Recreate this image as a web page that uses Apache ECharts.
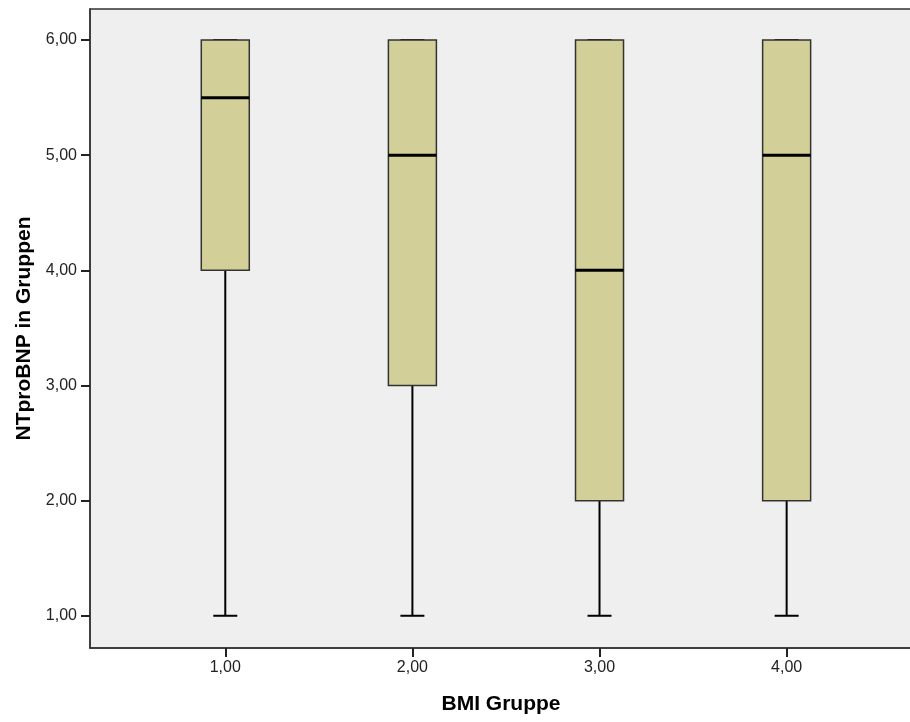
<!DOCTYPE html>
<html>
<head>
<meta charset="utf-8">
<script src="https://cdn.jsdelivr.net/npm/echarts@6/dist/echarts.min.js"></script>
<style>
  html, body { margin: 0; padding: 0; background: #fff; }
  #chart { width: 910px; height: 722px; }
</style>
</head>
<body>
<div id="chart"></div>
<script>
// BMI Gruppe
const groups = [1, 2, 3, 4];
// Boxplot-Kennwerte je Gruppe
const whiskerLow = [1, 1, 1, 1];
const q1 = [4, 3, 2, 2];
const median = [5.5, 5, 4, 5];
const q3 = [6, 6, 6, 6];
const whiskerHigh = [6, 6, 6, 6];
const yTicks = [1, 2, 3, 4, 5, 6];

const fmt = (v) => v.toFixed(2).replace(".", ",");

const chart = echarts.init(document.getElementById("chart"));

const boxData = groups.map((g, i) => [g, whiskerLow[i], q1[i], median[i], q3[i], whiskerHigh[i]]);

function renderBox(params, api) {
  const x = api.value(0);
  const pLow = api.coord([x, api.value(1)]);
  const pQ1 = api.coord([x, api.value(2)]);
  const pMed = api.coord([x, api.value(3)]);
  const pQ3 = api.coord([x, api.value(4)]);
  const pHigh = api.coord([x, api.value(5)]);
  const halfBox = 24;
  const halfCap = 12;
  const cx = pLow[0];
  return {
    type: "group",
    children: [
      // unterer Whisker
      { type: "line", shape: { x1: cx, y1: pLow[1], x2: cx, y2: pQ1[1] }, style: { stroke: "#000", lineWidth: 2 } },
      { type: "line", shape: { x1: cx - halfCap, y1: pLow[1], x2: cx + halfCap, y2: pLow[1] }, style: { stroke: "#000", lineWidth: 2 } },
      // oberer Whisker
      { type: "line", shape: { x1: cx, y1: pHigh[1], x2: cx, y2: pQ3[1] }, style: { stroke: "#000", lineWidth: 2 } },
      { type: "line", shape: { x1: cx - halfCap, y1: pHigh[1], x2: cx + halfCap, y2: pHigh[1] }, style: { stroke: "#000", lineWidth: 2 } },
      // Box
      {
        type: "rect",
        shape: { x: cx - halfBox, y: pQ3[1], width: halfBox * 2, height: pQ1[1] - pQ3[1] },
        style: { fill: "#d3cf98", stroke: "#333", lineWidth: 1.5 }
      },
      // Median
      { type: "line", shape: { x1: cx - halfBox, y1: pMed[1], x2: cx + halfBox, y2: pMed[1] }, style: { stroke: "#000", lineWidth: 3 } }
    ]
  };
}

const option = {
  backgroundColor: "#fff",
  textStyle: { fontFamily: "Liberation Sans, Arial, sans-serif" },
  grid: {
    left: 90,
    right: -2,
    top: 9,
    bottom: 74,
    outerBoundsMode: "none",
    containLabel: false,
    show: true,
    backgroundColor: "#efefef",
    borderColor: "#333",
    borderWidth: 1.5
  },
  xAxis: {
    type: "value",
    min: 0.277,
    max: 4.67,
    name: "BMI Gruppe",
    nameLocation: "middle",
    nameGap: 46,
    nameTextStyle: { fontSize: 21, fontWeight: "bold", color: "#000" },
    axisLine: { show: true, lineStyle: { color: "#333", width: 1.5 } },
    axisTick: { show: true, length: 9, customValues: groups, lineStyle: { color: "#222", width: 2 } },
    axisLabel: { customValues: groups, formatter: fmt, fontSize: 16, color: "#222", margin: 12 },
    splitLine: { show: false }
  },
  yAxis: {
    type: "value",
    min: 0.72,
    max: 6.27,
    name: "NTproBNP in Gruppen",
    nameLocation: "middle",
    nameGap: 54,
    nameRotate: 90,
    nameTextStyle: { fontSize: 21, fontWeight: "bold", color: "#000" },
    axisLine: { show: true, lineStyle: { color: "#333", width: 1.5 } },
    axisTick: { show: true, length: 9, customValues: yTicks, lineStyle: { color: "#222", width: 2 } },
    axisLabel: { customValues: yTicks, formatter: fmt, fontSize: 16, color: "#222", margin: 13 },
    splitLine: { show: false }
  },
  series: [
    {
      type: "custom",
      renderItem: renderBox,
      data: boxData,
      encode: { x: 0, y: [1, 2, 3, 4, 5] },
      silent: true
    }
  ]
};

chart.setOption(option);
</script>
</body>
</html>
